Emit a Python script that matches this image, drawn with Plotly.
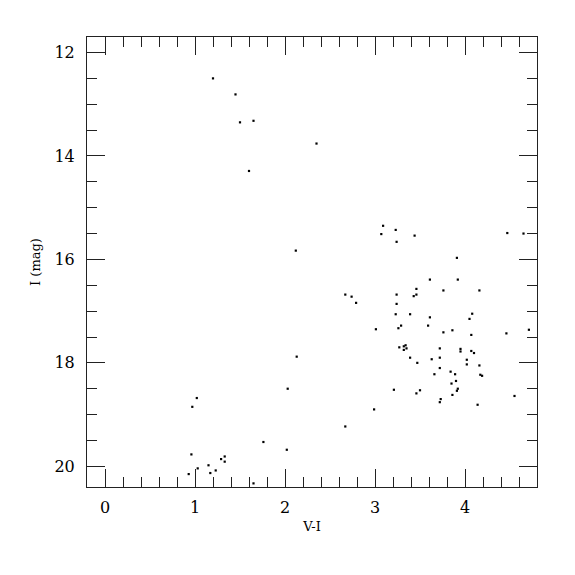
import plotly.graph_objects as go

# V-I colour and I magnitude of each star
v_minus_i = [1.20, 1.45, 1.50, 1.65, 2.35, 1.60,
             3.09, 3.07, 3.23, 3.24, 3.44, 4.47, 4.65, 2.12, 3.91, 3.61, 3.92,
             3.46, 3.76, 4.16, 2.67, 2.74, 2.79, 3.24, 3.43, 3.46, 3.24, 3.23,
             3.39, 3.61, 4.08, 4.05, 3.29, 3.26, 3.59, 3.01, 3.76, 3.86, 4.07,
             4.46, 4.71,
             3.27, 3.32, 3.34, 3.32, 3.35, 3.72, 3.95, 3.95, 4.07, 4.10, 3.39,
             3.47, 3.63, 3.72, 3.72, 4.02, 4.02, 4.16, 3.84, 3.66, 3.89, 4.17,
             4.19, 3.90, 3.85, 3.92, 3.91, 3.86, 3.46, 3.50, 3.21, 3.73, 3.72,
             4.14, 4.55, 2.13, 2.03, 2.99, 2.67, 2.02,
             1.02, 0.97, 1.76, 0.96, 1.33, 1.29, 1.33, 1.15, 1.03, 1.23, 1.17,
             0.93, 1.65]
i_mag = [12.50, 12.81, 13.35, 13.32, 13.76, 14.29,
         15.35, 15.51, 15.43, 15.66, 15.54, 15.49, 15.50, 15.83, 15.97, 16.39,
         16.39, 16.57, 16.60, 16.60, 16.68, 16.72, 16.84, 16.68, 16.71, 16.68,
         16.86, 17.06, 17.06, 17.12, 17.05, 17.15, 17.28, 17.33, 17.28, 17.35,
         17.41, 17.37, 17.46, 17.43, 17.36,
         17.70, 17.68, 17.66, 17.75, 17.72, 17.72, 17.73, 17.78, 17.77, 17.81,
         17.90, 18.00, 17.93, 17.90, 18.10, 17.94, 18.03, 18.05, 18.17, 18.22,
         18.22, 18.23, 18.25, 18.35, 18.40, 18.50, 18.54, 18.62, 18.59, 18.53,
         18.52, 18.70, 18.76, 18.81, 18.64, 17.88, 18.50, 18.90, 19.23, 19.68,
         18.68, 18.85, 19.53, 19.77, 19.81, 19.86, 19.91, 19.98, 20.04, 20.08,
         20.13, 20.15, 20.33]

x_tick_vals = [0, 1, 2, 3, 4]
y_tick_vals = [12, 14, 16, 18, 20]

FONT = "DejaVu Serif"
INK = "#222222"

fig = go.Figure(go.Scatter(
    x=v_minus_i, y=i_mag, mode="markers",
    marker=dict(symbol="square", size=2.2, color="black", line=dict(width=0)),
    hoverinfo="skip", showlegend=False))

axis_common = dict(
    showgrid=False, zeroline=False, showline=True, linecolor=INK, linewidth=1,
    mirror="ticks", ticks="inside", tickcolor=INK, tickwidth=1, automargin=False,
    tickfont=dict(family=FONT, size=16, color="black"),
)

fig.update_xaxes(
    **axis_common, range=[-0.2, 4.8], tickvals=x_tick_vals, ticklen=18,
    minor=dict(dtick=0.2, ticks="inside", ticklen=10, tickcolor=INK, tickwidth=1, showgrid=False),
    title=dict(text="V-I", font=dict(family=FONT, size=13, color="black"), standoff=5),
    ticklabelstandoff=6,
)
fig.update_yaxes(
    **axis_common, range=[20.4, 11.7], tickvals=y_tick_vals, ticklen=18,
    minor=dict(dtick=0.5, ticks="inside", ticklen=10, tickcolor=INK, tickwidth=1, showgrid=False),
    title=dict(text="I (mag)", font=dict(family=FONT, size=13, color="black"), standoff=10),
    ticklabelstandoff=8,
)

# the page body adds an 8px offset, so margins are shifted to compensate
fig.update_layout(
    width=575, height=575,
    margin=dict(l=79, r=46, t=29, b=96),
    paper_bgcolor="white", plot_bgcolor="white",
)

fig.write_html("out.html")
